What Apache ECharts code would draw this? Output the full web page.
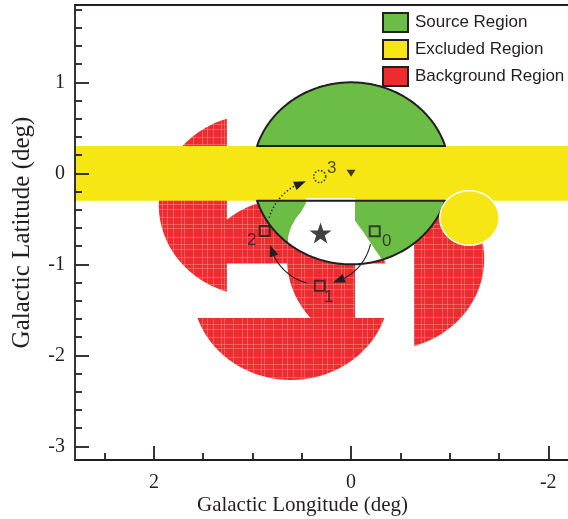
<!DOCTYPE html>
<html><head><meta charset="utf-8">
<script src="https://cdn.jsdelivr.net/npm/echarts@6/dist/echarts.min.js"></script>
<style>html,body{margin:0;padding:0;background:#fff}#c{width:568px;height:519px}</style>
</head><body><div id="c"></div>
<script>
// ---------------- data (galactic degrees) ----------------
const sourceCenter = [0, 0];
const sourceRadius = 1.0;
const excludedBand = [-0.3, 0.3];              // latitude band
const excludedCircle = [-1.2, -0.49, 0.3];     // l, b, radius
// background regions: [centre l, centre b, radius, clip axis, side, clip value]
const backgroundRegions = [
  [0.95, -0.35, 1.0, 'l', '>=', 1.26],
  [0.61, -1.27, 1.0, 'b', '<=', -1.59],
  [0.61, -1.27, 1.0, 'b', '>=', -0.99],
  [-0.35, -0.94, 1.0, 'l', '<=', -0.64],
  [-0.35, -0.94, 1.0, 'l', '>=', -0.04]
];
// unfilled part of the source region (edges meeting the source circle)
const holeLeftEdge = [[0.457,-0.27],[0.457,-0.325],[0.508,-0.424],[0.558,-0.49],[0.609,-0.589],[0.64,-0.699],[0.64,-0.768]];
const holeRightEdge = [[-0.315,-0.949],[-0.22,-0.80],[-0.12,-0.64],[-0.04,-0.52],[-0.04,-0.27]];
const pointingL = [-0.24, 0.318, 0.876, 0.318];
const pointingB = [-0.635, -1.236, -0.634, -0.035];
const pointingLabels = ['0', '1', '2', '3'];
const starPos = [0.31, -0.655];
const xRange = [-2.2, 2.8];
const yRange = [-3.15, 1.85];
const xMajorTicks = [-2, 0, 2];
const xMinorTicks = [-1.5, -1, -0.5, 0.5, 1, 1.5, 2.5];
const yMajorTicks = [-3, -2, -1, 0, 1];
const yMinorTicks = [-2.8,-2.6,-2.4,-2.2,-1.8,-1.6,-1.4,-1.2,-0.8,-0.6,-0.4,-0.2,0.2,0.4,0.6,0.8,1.2,1.4,1.6,1.8];

// ---------------- styles ----------------
const INK = '#231f20', GREEN = '#6cbd45', YELLOW = '#f5e614', RED = '#ee2b2f';
const serif = 'Liberation Serif', sans = 'Liberation Sans';

// ---------------- geometry helpers ----------------
function circlePts(cl, cb, r, n) {
  const p = [];
  for (let i = 0; i < n; i++) { const a = 2 * Math.PI * i / n; p.push([cl + r * Math.cos(a), cb + r * Math.sin(a)]); }
  return p;
}
function clip(poly, axis, side, v) {
  const k = axis === 'l' ? 0 : 1;
  const inside = p => side === '>=' ? p[k] >= v : p[k] <= v;
  const out = [];
  for (let i = 0; i < poly.length; i++) {
    const a = poly[i], b = poly[(i + 1) % poly.length];
    const ia = inside(a), ib = inside(b);
    if (ia) out.push(a);
    if (ia !== ib) { const t = (v - a[k]) / (b[k] - a[k]); out.push([a[0] + t * (b[0] - a[0]), a[1] + t * (b[1] - a[1])]); }
  }
  return out;
}
const redPolys = backgroundRegions.map(r => clip(circlePts(r[0], r[1], r[2], 240), r[3], r[4], r[5]));
const srcCircle = circlePts(sourceCenter[0], sourceCenter[1], sourceRadius, 360);
const srcCaps = [clip(srcCircle, 'b', '>=', excludedBand[1]), clip(srcCircle, 'b', '<=', excludedBand[0])];
const holePoly = (function () {
  const le = holeLeftEdge[holeLeftEdge.length - 1], re = holeRightEdge[0];
  let a0 = Math.atan2(le[1] - sourceCenter[1], le[0] - sourceCenter[0]);
  let a1 = Math.atan2(re[1] - sourceCenter[1], re[0] - sourceCenter[0]);
  const arc = [];
  for (let i = 1; i < 40; i++) { const a = a0 + (a1 - a0) * i / 40; arc.push([sourceCenter[0] + sourceRadius * Math.cos(a), sourceCenter[1] + sourceRadius * Math.sin(a)]); }
  return holeLeftEdge.concat(arc, holeRightEdge);
})();
const bandPoly = [[xRange[0], excludedBand[0]], [xRange[1], excludedBand[0]], [xRange[1], excludedBand[1]], [xRange[0], excludedBand[1]]];
const exclCirclePoly = circlePts(excludedCircle[0], excludedCircle[1], excludedCircle[2], 120);

function makeRedPattern() {
  const cv = document.createElement('canvas'); cv.width = 40; cv.height = 40;
  const g = cv.getContext('2d'); g.fillStyle = RED; g.fillRect(0, 0, 40, 40);
  g.fillStyle = 'rgba(255,150,150,0.45)';
  [2, 7, 13, 21, 24, 33].forEach(x => g.fillRect(x, 0, 1, 40));
  [4, 9, 17, 24, 28, 37].forEach(y => g.fillRect(0, y, 40, 1));
  return cv;
}
const redFill = { image: makeRedPattern(), repeat: 'repeat' };

function polySeries(name, polys, style, z) {
  return {
    type: 'custom', name: name, z: z, coordinateSystem: 'cartesian2d', silent: true,
    data: polys.map((p, i) => [p[0][0], p[0][1], i]),
    renderItem: function (params, api) {
      const poly = polys[params.dataIndex];
      return { type: 'polygon', shape: { points: poly.map(p => api.coord(p)) }, style: Object.assign({}, style) };
    }
  };
}

const arrowSeries = {
  type: 'custom', name: 'wobble', z: 9, coordinateSystem: 'cartesian2d', silent: true,
  data: [0, 1, 2].map(k => [pointingL[k], pointingB[k], k]),
  renderItem: function (params, api) {
    const k = params.dataIndex;
    const c = api.coord(starPos);
    const p0 = api.coord([pointingL[k], pointingB[k]]);
    const p1 = api.coord([pointingL[k + 1], pointingB[k + 1]]);
    const ang = p => Math.atan2(p[1] - c[1], p[0] - c[0]);
    let a0 = ang(p0), a1 = ang(p1);
    while (a1 < a0) a1 += 2 * Math.PI;
    const r = 0.955 * (Math.hypot(p0[0] - c[0], p0[1] - c[1]) + Math.hypot(p1[0] - c[0], p1[1] - c[1])) / 2;
    const deg = Math.PI / 180;
    const s = a0 + 14.5 * deg, e = a1 - 15 * deg;
    const L = 12, W = 4.5;
    const eb = e - L / r;
    const pts = [];
    for (let i = 0; i <= 40; i++) { const a = s + (eb - s) * i / 40; pts.push([c[0] + r * Math.cos(a), c[1] + r * Math.sin(a)]); }
    const tip = [c[0] + r * Math.cos(e), c[1] + r * Math.sin(e)];
    const base = pts[pts.length - 1];
    const dx = tip[0] - base[0], dy = tip[1] - base[1], dl = Math.hypot(dx, dy);
    const nx = -dy / dl, ny = dx / dl;
    return {
      type: 'group', children: [
        { type: 'polyline', shape: { points: pts }, style: { stroke: INK, lineWidth: k === 2 ? 1.4 : 1.1, fill: null, lineDash: k === 2 ? [1.4, 2.2] : null } },
        { type: 'polygon', shape: { points: [tip, [base[0] + nx * W, base[1] + ny * W], [base[0] - nx * W, base[1] - ny * W]] }, style: { fill: INK } }
      ]
    };
  }
};

const labelOffsets = [[12, 10], [9, 11], [-13, 9], [12, -8]];
const starPath = 'path://M50,0 L61.8,35.1 L97.6,34.5 L68.8,56.7 L79.4,90.5 L50,70 L20.6,90.5 L31.2,56.7 L2.4,34.5 L38.2,35.1 Z';

const pointingSeries = {
  type: 'scatter', name: 'pointings', z: 10, silent: true,
  data: pointingL.map((l, i) => ({
    value: [l, pointingB[i]],
    symbol: i === 3 ? 'circle' : 'rect',
    symbolSize: i === 3 ? 12 : 10,
    itemStyle: { color: 'rgba(0,0,0,0)', borderColor: INK, borderWidth: i === 3 ? 1.6 : 2, borderType: i === 3 ? [1.6, 1.6] : 'solid' },
    label: { show: true, formatter: pointingLabels[i], position: 'inside', offset: labelOffsets[i], fontFamily: sans, fontSize: 17, color: INK }
  }))
};
const markSeries = {
  type: 'scatter', name: 'marks', z: 10, silent: true,
  data: [
    { value: starPos, symbol: starPath, symbolSize: [22, 21], itemStyle: { color: '#111' } },
    { value: sourceCenter, symbol: 'triangle', symbolRotate: 180, symbolSize: [9, 7], itemStyle: { color: '#111' } }
  ]
};

const tickStyle = { color: INK, width: 1.8 };
const chart = echarts.init(document.getElementById('c'));
chart.setOption({
  animation: false,
  backgroundColor: '#fff',
  grid: { left: 75, right: 0, top: 5, bottom: 59, containLabel: false, outerBoundsMode: 'none' },
  legend: {
    orient: 'vertical', left: 377, top: 7, padding: 5, itemWidth: 25, itemHeight: 19, itemGap: 6, icon: 'rect', selectedMode: false,
    textStyle: { fontFamily: sans, fontSize: 17, color: INK, padding: [0, 0, 0, 2] },
    data: [
      { name: 'Source Region', itemStyle: { color: GREEN, borderColor: INK, borderWidth: 2 } },
      { name: 'Excluded Region', itemStyle: { color: YELLOW, borderColor: INK, borderWidth: 2 } },
      { name: 'Background Region', itemStyle: { color: RED, borderColor: INK, borderWidth: 2 } }
    ]
  },
  xAxis: [
    { type: 'value', min: xRange[0], max: xRange[1], inverse: true, position: 'bottom', z: 10,
      name: 'Galactic Longitude (deg)', nameLocation: 'middle', nameGap: 35, nameMoveOverlap: false,
      nameTextStyle: { fontFamily: serif, fontSize: 21, color: INK, padding: [0, 38, 0, 0] },
      axisLine: { show: true, onZero: false, lineStyle: tickStyle },
      axisTick: { show: true, inside: true, length: 14, customValues: xMajorTicks, lineStyle: tickStyle },
      axisLabel: { customValues: xMajorTicks, margin: 13, fontFamily: serif, fontSize: 20, color: INK },
      splitLine: { show: false } },
    { type: 'value', min: xRange[0], max: xRange[1], inverse: true, position: 'bottom', z: 10,
      axisLine: { show: false, onZero: false },
      axisTick: { show: true, inside: true, length: 7, customValues: xMinorTicks, lineStyle: tickStyle },
      axisLabel: { show: false }, splitLine: { show: false } },
    { type: 'value', min: xRange[0], max: xRange[1], inverse: true, position: 'top', z: 10,
      axisLine: { show: true, onZero: false, lineStyle: { color: INK, width: 2 } },
      axisTick: { show: false }, axisLabel: { show: false }, splitLine: { show: false } }
  ],
  yAxis: [
    { type: 'value', min: yRange[0], max: yRange[1], position: 'left', z: 10,
      name: 'Galactic Latitude (deg)', nameLocation: 'middle', nameGap: 40, nameMoveOverlap: false,
      nameTextStyle: { fontFamily: serif, fontSize: 25, color: INK },
      axisLine: { show: true, onZero: false, lineStyle: tickStyle },
      axisTick: { show: true, inside: true, length: 14, customValues: yMajorTicks, lineStyle: tickStyle },
      axisLabel: { customValues: yMajorTicks, margin: 10, fontFamily: serif, fontSize: 20, color: INK },
      splitLine: { show: false } },
    { type: 'value', min: yRange[0], max: yRange[1], position: 'left', z: 10,
      axisLine: { show: false, onZero: false },
      axisTick: { show: true, inside: true, length: 7, customValues: yMinorTicks, lineStyle: tickStyle },
      axisLabel: { show: false }, splitLine: { show: false } }
  ],
  series: [
    polySeries('Background Region', redPolys, { fill: redFill }, 2),
    polySeries('Excluded Region', [bandPoly], { fill: YELLOW }, 3),
    polySeries('Source Region', srcCaps, { fill: GREEN }, 4),
    polySeries('hole', [holePoly], { fill: '#fff' }, 5),
    polySeries('outline', srcCaps, { fill: null, stroke: INK, lineWidth: 2, lineJoin: 'round' }, 6),
    polySeries('exclusion circle', [exclCirclePoly], { fill: YELLOW, stroke: '#fff', lineWidth: 1.5 }, 7),
    arrowSeries,
    pointingSeries,
    markSeries
  ]
});
</script>
</body></html>
